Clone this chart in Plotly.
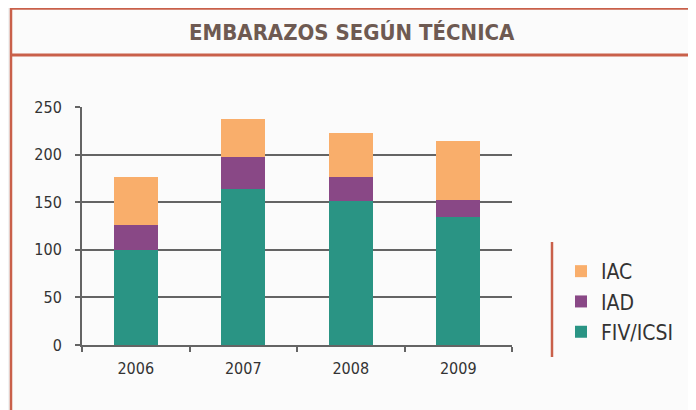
import plotly.graph_objects as go

years = ["2006", "2007", "2008", "2009"]
fiv_icsi = [100, 164, 151, 134]
iad = [26, 33, 25, 18]
iac = [50, 40, 47, 62]
y_ticks = [0, 50, 100, 150, 200, 250]

FONT = "DejaVu Sans Condensed, Liberation Sans Narrow, Arial Narrow, sans-serif"
RED = "#c9604a"
GRID = "#646464"

fig = go.Figure()
series = [("FIV/ICSI", fiv_icsi, "#2a9484"),
          ("IAD", iad, "#894886"),
          ("IAC", iac, "#f9ae6b")]
for name, vals, col in series:
    fig.add_trace(go.Bar(x=years, y=vals, name=name, marker_color=col,
                         marker_line_width=0, legendgroup=name))

# the page body adds an 8px offset, so the figure is laid out in shifted coordinates
W, H = 688, 402
L, R, T, B = 74, 184, 99, 65
pw, ph = W - L - R, H - T - B

def px(x):
    return (x - L) / pw

def py(y):
    return (H - B - y) / ph

shapes = [
    dict(type="rect", xref="paper", yref="paper", x0=px(3), x1=px(720), y0=py(0), y1=py(430),
         fillcolor="#fbfbfb", line_width=0, layer="below"),
    dict(type="line", xref="paper", yref="paper", x0=px(3), x1=px(720), y0=py(0.5), y1=py(0.5),
         line=dict(color=RED, width=2.5)),
    dict(type="line", xref="paper", yref="paper", x0=px(3), x1=px(720), y0=py(47), y1=py(47),
         line=dict(color=RED, width=3)),
    dict(type="line", xref="paper", yref="paper", x0=px(3), x1=px(3), y0=py(0), y1=py(430),
         line=dict(color=RED, width=2.5)),
    dict(type="line", xref="paper", yref="paper", x0=px(544), x1=px(544), y0=py(234), y1=py(349),
         line=dict(color=RED, width=2.5)),
]

fig.update_layout(
    width=W, height=H,
    margin=dict(l=L, r=R, t=T, b=B, pad=0),
    paper_bgcolor="#f2f3f3",
    plot_bgcolor="rgba(0,0,0,0)",
    barmode="stack",
    bargap=0.59,
    shapes=shapes,
    font=dict(family=FONT, color="#333333", size=16),
    annotations=[dict(text="<b>EMBARAZOS SEGÚN TÉCNICA</b>", xref="paper", yref="paper",
                      x=px(344), y=py(24), xanchor="center", yanchor="middle", showarrow=False,
                      font=dict(family=FONT, size=22, color="#6e5a52"))],
    legend=dict(x=px(553), y=py(293.5), xanchor="left", yanchor="middle",
                font=dict(family=FONT, size=21, color="#333333"),
                tracegroupgap=15, bgcolor="rgba(0,0,0,0)", traceorder="reversed"),
    xaxis=dict(type="category", tickson="boundaries", ticks="outside", ticklen=5,
               tickwidth=2, tickcolor=GRID, showline=True, linecolor=GRID, linewidth=2,
               showgrid=False, tickfont=dict(size=16, color="#333333"), ticklabelstandoff=8),
    yaxis=dict(range=[0, 250], tickvals=y_ticks, ticks="outside", ticklen=5, tickwidth=2,
               tickcolor=GRID, showline=True, linecolor=GRID, linewidth=2,
               showgrid=True, gridcolor=GRID, gridwidth=2, zeroline=False,
               tickfont=dict(size=16, color="#333333"), ticklabelstandoff=10),
)

fig.write_html("out.html")
